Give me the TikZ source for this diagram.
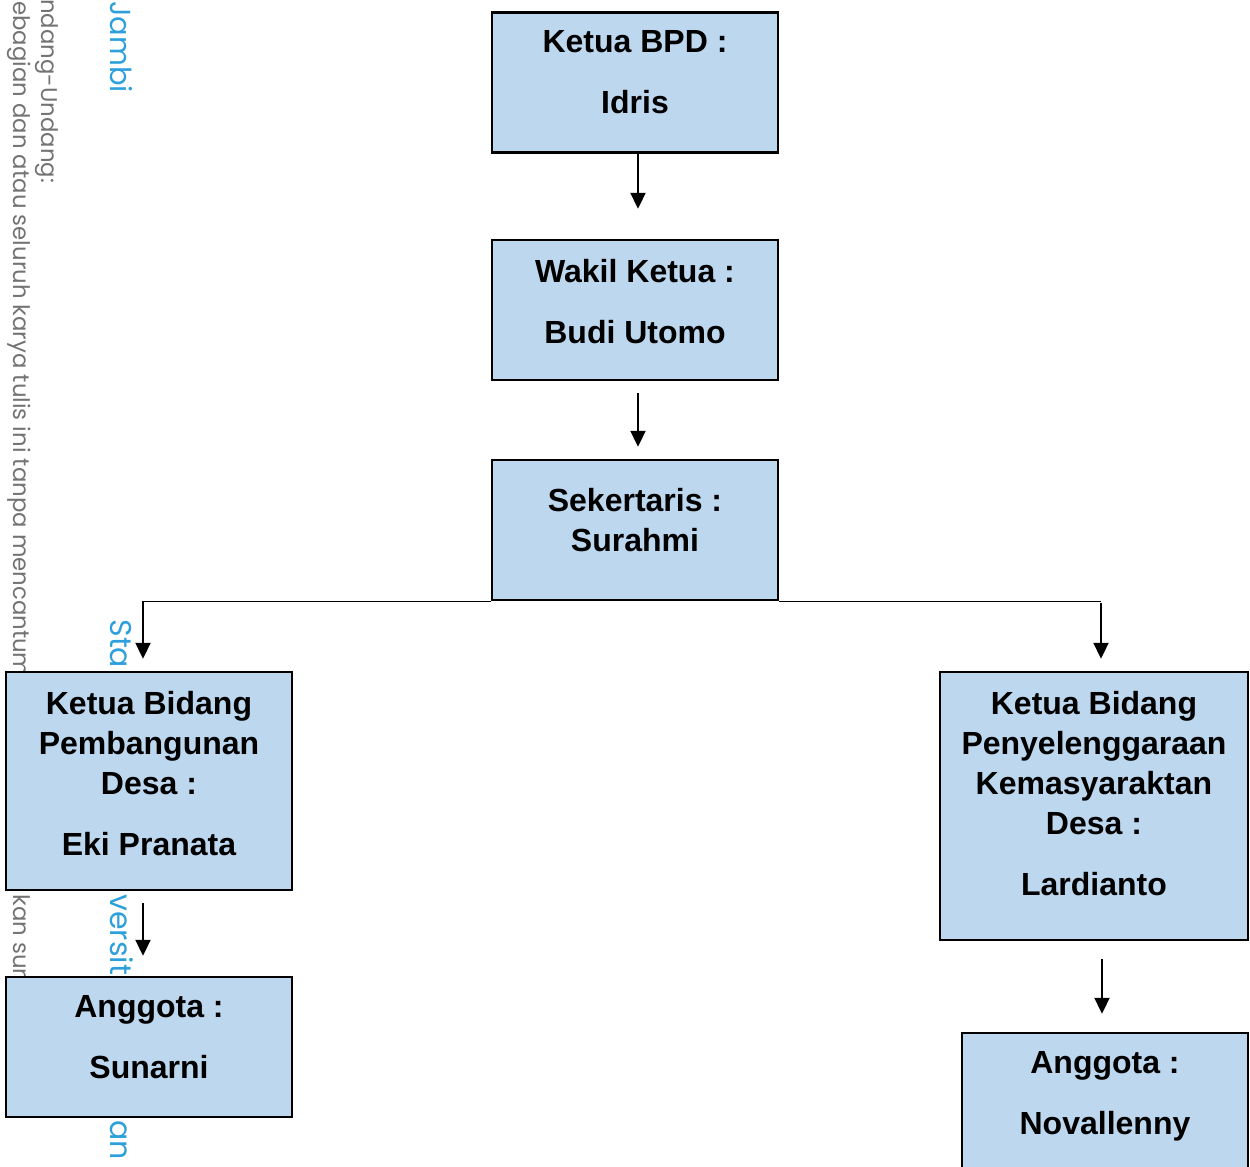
\documentclass[tikz,border=0pt]{standalone}
\usepackage{fontspec}
\setmainfont{Liberation Sans}
\newfontfamily\wmfont{Poppins}
\usetikzlibrary{arrows.meta}
\definecolor{boxfill}{RGB}{189,215,238}
\definecolor{wmblue}{RGB}{45,160,220}
\definecolor{wmgray}{RGB}{115,115,115}
\begin{document}
\begin{tikzpicture}[x=0.5pt,y=-0.5pt,
  box/.style={draw=black, line width=1.2pt, fill=boxfill, rectangle, inner sep=0pt, minimum width=143pt, minimum height=70pt},
  lbl/.style={anchor=north, inner sep=0pt, align=center, font=\fontsize{16}{20}\selectfont\bfseries},
  arr/.style={line width=1pt, -{Triangle[width=7.5pt,length=8pt]}},
  conn/.style={line width=0.7pt},
  wmg/.style={rotate=-90, inner sep=0pt, text=wmgray, font=\wmfont\fontsize{11.4}{13}\selectfont},
  wmb/.style={rotate=-90, inner sep=0pt, text=wmblue, font=\wmfont\fontsize{15}{17}\selectfont}]
\useasboundingbox (0,0) rectangle (1250,1167);
\clip (0,0) rectangle (1250,1167);
% watermark
\node[wmg, anchor=base west] (w1) at (41,-1) {ndang-Undang:};
\node[wmg, anchor=base west] (w2) at (13,1) {ebagian dan atau seluruh karya tulis ini tanpa mencantum};
\node[wmg, anchor=base west] (w3) at (13,894) {kan sum};
\node[wmb, anchor=base west, font=\wmfont\fontsize{14.5}{17}\selectfont] (w4) at (110,1) {Jambi};
\node[wmb, anchor=base west] (w5) at (111,619) {Sta};
\node[wmb, anchor=base west] (w6) at (111,894) {versit};
\node[wmb, anchor=base west] (w7) at (111,1120) {an};
% boxes
\node[box] (b1) at (635,82.5) {};
\node[box] (b2) at (635,310) {};
\node[box] (b3) at (635,530) {};
\node[box, minimum height=109pt] (b4) at (149,781) {};
\node[box] (b5) at (149,1047) {};
\node[box, minimum width=154pt, minimum height=134pt] (b6) at (1094,806) {};
\node[box] (b7) at (1105,1103) {};
% labels
\node[lbl] (t1) at (635,30.5) {Ketua BPD :\\[10.5pt]Idris};
\node[lbl] (t2) at (635,258.5) {Wakil Ketua :\\[10.5pt]Budi Utomo};
\node[lbl] (t3) at (635,487.5) {Sekertaris :\\Surahmi};
\node[lbl] (t4) at (149,690.5) {Ketua Bidang\\Pembangunan\\Desa :\\[10.5pt]Eki Pranata};
\node[lbl] (t5) at (149,995.5) {Anggota :\\[10.5pt]Sunarni};
\node[lbl] (t6) at (1094,690.5) {Ketua Bidang\\Penyelenggaraan\\Kemasyaraktan\\Desa :\\[10.5pt]Lardianto};
\node[lbl] (t7) at (1105,1051.5) {Anggota :\\[10.5pt]Novallenny};
% connectors
\draw[arr, shorten >=15pt] ([xshift=1.5pt]b1.south) -- ([xshift=1.5pt]b2.north);
\draw[arr, shorten <=6pt, shorten >=6pt] ([xshift=1.5pt]b2.south) -- ([xshift=1.5pt]b3.north);
\coordinate (l) at ([xshift=-3pt]b4.north);
\coordinate (r) at ([xshift=3.5pt]b6.north);
\draw[conn] (b3.south west) -- (b3.south west -| l);
\draw[arr, shorten >=6pt] (b3.south west -| l) -- (l);
\draw[conn] (b3.south east) -- (b3.south east -| r);
\draw[arr, shorten <=1pt, shorten >=6pt] (b3.south east -| r) -- (r);
\draw[arr, shorten <=6pt, shorten >=10pt] ([xshift=-3pt]b4.south) -- ([xshift=-3pt]b5.north);
\draw[arr, shorten <=9pt, shorten >=9pt] ([xshift=4pt]b6.south) -- ([xshift=4pt]b6.south |- b7.north);
\end{tikzpicture}
\end{document}
